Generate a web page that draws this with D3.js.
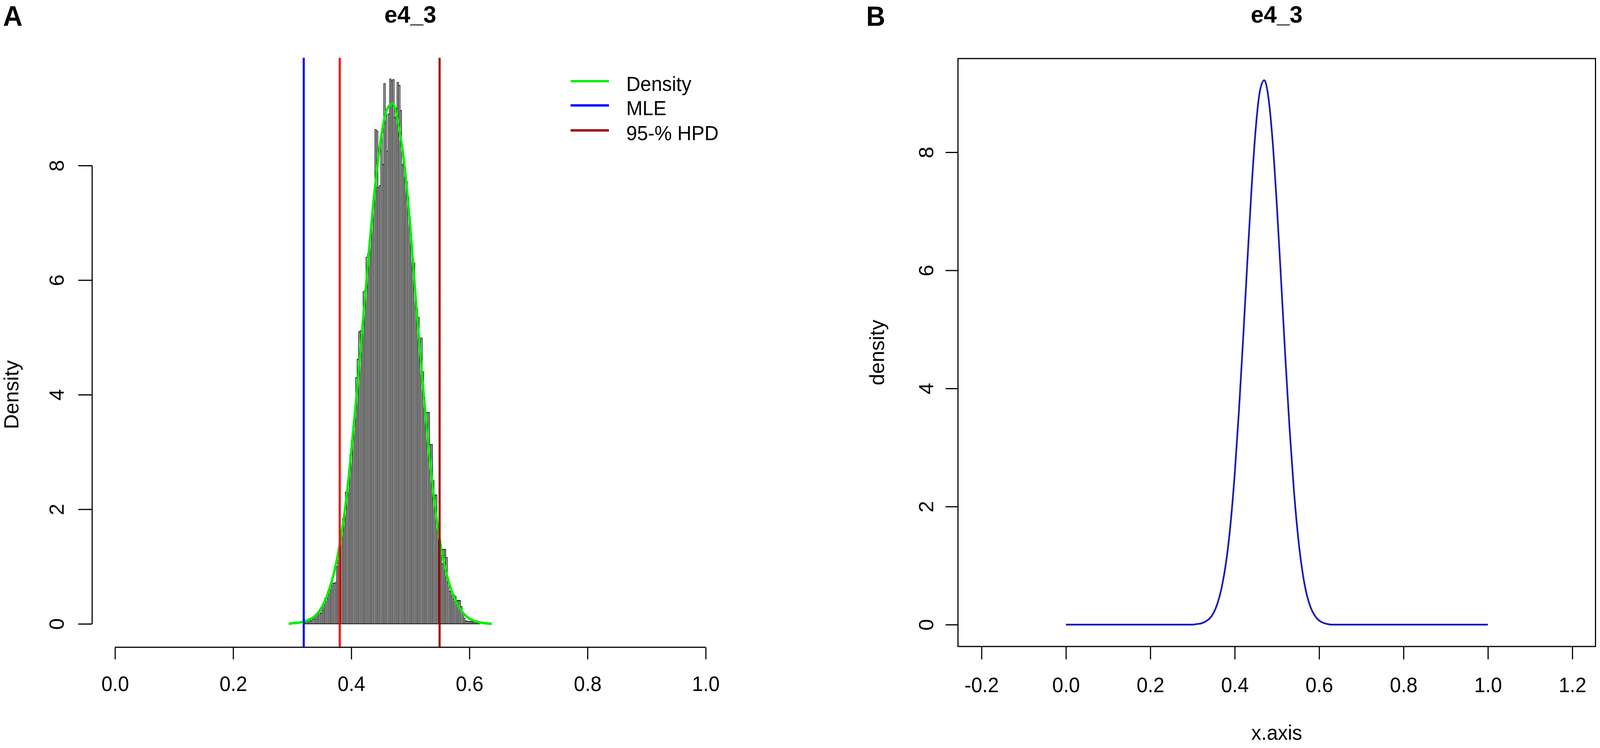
<!DOCTYPE html>
<html>
<head>
<meta charset="utf-8">
<script src="https://cdn.jsdelivr.net/npm/d3@7/dist/d3.min.js"></script>
<style>
  html, body { margin: 0; padding: 0; background: #ffffff; overflow: hidden; width: 100%; height: 100%; }
  svg { display: block; width: 100vw; height: 100vh; }
  text { font-family: "Liberation Sans", Arial, sans-serif; fill: #000; }
</style>
</head>
<body>
<svg id="chart" viewBox="0 0 4254 1916" preserveAspectRatio="none"></svg>
<script>
// ---------------- data ----------------
const panelTitle = "e4_3";
const panelLabels = ["A", "B"];

// Panel A: histogram (bin width 0.0025, first bin starts at 0.32)
const binStart = 0.32;
const binWidth = 0.0025;
const histDensity = [
  0.02, 0.06, 0.03, 0.09,
  0.05, 0.10, 0.08, 0.13,
  0.16, 0.20, 0.21, 0.18,
  0.30, 0.37, 0.45, 0.46,
  0.58, 0.60, 0.71, 0.71,
  0.71, 0.72, 1.00, 1.25,
  1.38, 1.62, 1.84, 1.92,
  2.30, 2.39, 2.55, 2.95,
  3.20, 3.45, 3.65, 4.30,
  4.62, 5.10, 5.12, 5.05,
  5.80, 5.82, 6.40, 6.46,
  6.70, 6.88, 7.14, 7.40,
  8.63, 8.60, 7.62, 7.65,
  8.55, 8.02, 9.43, 8.90,
  8.25, 8.90, 9.51, 9.48,
  9.50, 8.84, 9.00, 9.45,
  9.40, 8.96, 8.01, 8.05,
  7.80, 7.72, 7.45, 7.10,
  6.80, 6.32, 6.30, 5.60,
  5.50, 5.35, 4.85, 4.99,
  4.40, 3.95, 3.69, 3.69,
  3.69, 3.13, 3.13, 2.50,
  2.25, 2.25, 1.75, 1.50,
  1.20, 1.05, 1.30, 1.30,
  1.16, 0.76, 0.57, 0.56,
  0.50, 0.50, 0.48, 0.41,
  0.41, 0.41, 0.30, 0.18,
  0.10, 0.05, 0.05, 0.04,
  0.04, 0.04, 0.03, 0.03,
  0.02, 0.01, 0.01
];

// Panel A: kernel density curve (green)
const densX = [0.294, 0.30, 0.31, 0.32, 0.33, 0.34, 0.35, 0.36, 0.37, 0.38, 0.39, 0.40, 0.41, 0.42, 0.43, 0.44, 0.45, 0.46, 0.47, 0.48, 0.49, 0.50, 0.51, 0.52, 0.53, 0.54, 0.55, 0.56, 0.57, 0.58, 0.59, 0.60, 0.61, 0.62, 0.63, 0.638];
const densY = [0.0, 0.01, 0.02, 0.04, 0.08, 0.15, 0.29, 0.52, 0.86, 1.35, 2.05, 3.00, 4.10, 5.30, 6.50, 7.60, 8.45, 8.97, 9.08, 8.70, 8.00, 6.90, 5.55, 4.30, 3.15, 2.20, 1.45, 0.92, 0.57, 0.33, 0.18, 0.09, 0.045, 0.02, 0.008, 0.0];

// Panel A: reference lines
const mleValue = 0.3195;
const hpdValues = [0.3805, 0.5495];

// Panel A legend
const legendLabels = ["Density", "MLE", "95-% HPD"];
const legendColors = ["#00ee00", "#0000ff", "#a00000"];

// Panel B: density curve
const curveX = [0.00, 0.30, 0.31, 0.32, 0.33, 0.34, 0.35, 0.36, 0.37, 0.38, 0.39, 0.40, 0.41, 0.42, 0.43, 0.44, 0.45, 0.46, 0.47, 0.48, 0.49, 0.50, 0.51, 0.52, 0.53, 0.54, 0.55, 0.56, 0.57, 0.58, 0.59, 0.60, 0.61, 0.62, 0.63, 1.00];
const curveY = [0.0, 0.0, 0.01, 0.02, 0.05, 0.10, 0.20, 0.38, 0.66, 1.08, 1.70, 2.55, 3.62, 4.85, 6.15, 7.40, 8.42, 9.05, 9.22, 8.92, 8.17, 7.08, 5.82, 4.52, 3.32, 2.30, 1.50, 0.92, 0.53, 0.29, 0.15, 0.07, 0.03, 0.01, 0.0, 0.0];

// tick values
const xTicksA = [0.0, 0.2, 0.4, 0.6, 0.8, 1.0];
const yTicksA = [0, 2, 4, 6, 8];
const xTicksB = [-0.2, 0.0, 0.2, 0.4, 0.6, 0.8, 1.0, 1.2];
const yTicksB = [0, 2, 4, 6, 8];
const yLabelA = "Density";
const yLabelB = "density";
const xLabelB = "x.axis";

// ---------------- drawing ----------------
const svg = d3.select("#chart");
const FS = 53;
const fmt1 = d => d.toFixed(1);   // R-style labels with ASCII hyphen-minus

// Panel A scales (plot region)
const xA = d3.scaleLinear().domain([-0.04, 1.04]).range([243, 1939]);
const yA = d3.scaleLinear().domain([-0.409, 9.881]).range([1658, 148]);
// Panel B scales
const xB = d3.scaleLinear().domain([-0.2558, 1.2549]).range([2547, 4242]);
const yB = d3.scaleLinear().domain([-0.37, 9.587]).range([1656, 150]);

// ---- panel labels
svg.append("text").attr("x", 8).attr("y", 66)
  .style("font-size", "72px").style("font-weight", "bold").text(panelLabels[0]);
svg.append("text").attr("x", 2303).attr("y", 66)
  .style("font-size", "70px").style("font-weight", "bold").text(panelLabels[1]);

// ---- titles
svg.append("text").attr("x", (xA.range()[0] + xA.range()[1]) / 2).attr("y", 58)
  .attr("text-anchor", "middle").style("font-size", "62px").style("font-weight", "bold").text(panelTitle);
svg.append("text").attr("x", (xB.range()[0] + xB.range()[1]) / 2).attr("y", 58)
  .attr("text-anchor", "middle").style("font-size", "62px").style("font-weight", "bold").text(panelTitle);

// ---------------- Panel A ----------------
const gA = svg.append("g");

// histogram bars
const bins = histDensity.map((d, i) => ({
  x0: binStart + i * binWidth,
  x1: binStart + (i + 1) * binWidth,
  h: d
}));
gA.append("g").selectAll("rect").data(bins).join("rect")
  .attr("x", d => xA(d.x0))
  .attr("width", d => xA(d.x1) - xA(d.x0))
  .attr("y", d => yA(d.h))
  .attr("height", d => yA(0) - yA(d.h))
  .attr("fill", "#d3d3d3")
  .attr("stroke", "#000")
  .attr("stroke-width", 1.6);

// density line
const densLine = d3.line().x(d => xA(d[0])).y(d => yA(d[1])).curve(d3.curveMonotoneX);
gA.append("path").datum(densX.map((x, i) => [x, densY[i]]))
  .attr("d", densLine).attr("fill", "none")
  .attr("stroke", legendColors[0]).attr("stroke-width", 6.5).attr("stroke-linejoin", "round");

// vertical lines
const yTopA = yA.range()[1], yBotA = yA.range()[0];
gA.append("line").attr("x1", xA(mleValue)).attr("x2", xA(mleValue))
  .attr("y1", yTopA).attr("y2", yBotA).attr("stroke", "#0000ff").attr("stroke-width", 5.5);
gA.append("line").attr("x1", xA(hpdValues[0])).attr("x2", xA(hpdValues[0]))
  .attr("y1", yTopA).attr("y2", yBotA).attr("stroke", "#ff0000").attr("stroke-width", 5.5);
gA.append("line").attr("x1", xA(hpdValues[1])).attr("x2", xA(hpdValues[1]))
  .attr("y1", yTopA).attr("y2", yBotA).attr("stroke", "#a00000").attr("stroke-width", 5.5);

// x axis A
const axAx = gA.append("g").attr("transform", "translate(0,1658)")
  .call(d3.axisBottom(xA).tickValues(xTicksA).tickSize(31).tickSizeOuter(0).tickFormat(fmt1));
axAx.select(".domain").remove();
axAx.selectAll(".tick line").attr("stroke", "#000").attr("stroke-width", 3);
axAx.selectAll(".tick text").attr("y", 112).attr("dy", null).style("font-size", FS + "px")
  .attr("font-family", null).attr("fill", "#000");
axAx.append("line").attr("x1", xA(xTicksA[0])).attr("x2", xA(xTicksA[xTicksA.length - 1]))
  .attr("y1", 0).attr("y2", 0).attr("stroke", "#000").attr("stroke-width", 3);

// y axis A
const axAy = gA.append("g").attr("transform", "translate(245,0)")
  .call(d3.axisLeft(yA).tickValues(yTicksA).tickSize(37).tickSizeOuter(0));
axAy.select(".domain").remove();
axAy.selectAll(".tick line").attr("stroke", "#000").attr("stroke-width", 3);
axAy.selectAll(".tick text").attr("x", null).attr("dy", null).attr("text-anchor", "middle")
  .attr("transform", "translate(-76,0) rotate(-90)").style("font-size", FS + "px")
  .attr("font-family", null).attr("fill", "#000");
axAy.append("line").attr("x1", 0).attr("x2", 0)
  .attr("y1", yA(yTicksA[0])).attr("y2", yA(yTicksA[yTicksA.length - 1]))
  .attr("stroke", "#000").attr("stroke-width", 3);

// y label A
svg.append("text").attr("transform", `translate(49,${(yA(0) + yA(8)) / 2}) rotate(-90)`)
  .attr("text-anchor", "middle").style("font-size", FS + "px").text(yLabelA);

// legend A
const legY = [208, 270, 334];
legendLabels.forEach((lab, i) => {
  gA.append("line").attr("x1", 1517).attr("x2", 1619).attr("y1", legY[i]).attr("y2", legY[i])
    .attr("stroke", legendColors[i]).attr("stroke-width", 6);
  gA.append("text").attr("x", 1665).attr("y", legY[i] + 25)
    .style("font-size", "52px").text(lab);
});

// ---------------- Panel B ----------------
const gB = svg.append("g");

// box
gB.append("rect").attr("x", xB.range()[0]).attr("y", yB.range()[1])
  .attr("width", xB.range()[1] - xB.range()[0]).attr("height", yB.range()[0] - yB.range()[1])
  .attr("fill", "none").attr("stroke", "#000").attr("stroke-width", 3);

// curve
const bLine = d3.line().x(d => xB(d[0])).y(d => yB(d[1])).curve(d3.curveMonotoneX);
gB.append("path").datum(curveX.map((x, i) => [x, curveY[i]]))
  .attr("d", bLine).attr("fill", "none")
  .attr("stroke", "#1a1ab4").attr("stroke-width", 4.5).attr("stroke-linejoin", "round");

// x axis B
const axBx = gB.append("g").attr("transform", `translate(0,${yB.range()[0]})`)
  .call(d3.axisBottom(xB).tickValues(xTicksB).tickSize(33).tickSizeOuter(0).tickFormat(fmt1));
axBx.select(".domain").remove();
axBx.selectAll(".tick line").attr("stroke", "#000").attr("stroke-width", 3);
axBx.selectAll(".tick text").attr("y", 117).attr("dy", null).style("font-size", FS + "px")
  .attr("font-family", null).attr("fill", "#000");

// y axis B
const axBy = gB.append("g").attr("transform", `translate(${xB.range()[0]},0)`)
  .call(d3.axisLeft(yB).tickValues(yTicksB).tickSize(33).tickSizeOuter(0));
axBy.select(".domain").remove();
axBy.selectAll(".tick line").attr("stroke", "#000").attr("stroke-width", 3);
axBy.selectAll(".tick text").attr("x", null).attr("dy", null).attr("text-anchor", "middle")
  .attr("transform", "translate(-66,0) rotate(-90)").style("font-size", FS + "px")
  .attr("font-family", null).attr("fill", "#000");

// labels B
svg.append("text").attr("transform", `translate(2350,${(yB.range()[0] + yB.range()[1]) / 2}) rotate(-90)`)
  .attr("text-anchor", "middle").style("font-size", FS + "px").text(yLabelB);
svg.append("text").attr("x", (xB.range()[0] + xB.range()[1]) / 2).attr("y", 1895)
  .attr("text-anchor", "middle").style("font-size", FS + "px").text(xLabelB);
</script>
</body>
</html>
